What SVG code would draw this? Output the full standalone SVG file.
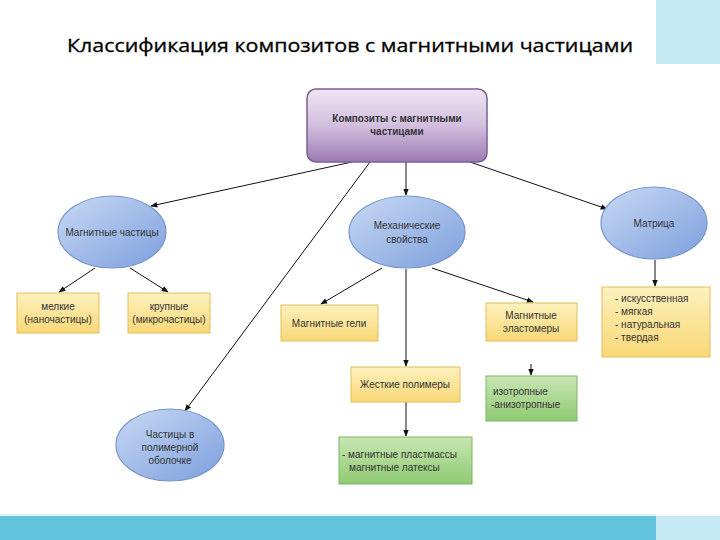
<svg xmlns="http://www.w3.org/2000/svg" width="720" height="540" viewBox="0 0 720 540">
<defs>
<linearGradient id="gPurple" x1="0" y1="0" x2="0" y2="1">
<stop offset="0" stop-color="#eee6f3"/><stop offset="0.5" stop-color="#d2bfdf"/><stop offset="1" stop-color="#9c7bb2"/>
</linearGradient>
<linearGradient id="gBlue" x1="0" y1="0" x2="1" y2="1">
<stop offset="0" stop-color="#c8d9f4"/><stop offset="1" stop-color="#7d9fdd"/>
</linearGradient>
<linearGradient id="gYellow" x1="0" y1="0" x2="0" y2="1">
<stop offset="0" stop-color="#fdf1bd"/><stop offset="1" stop-color="#f9d877"/>
</linearGradient>
<linearGradient id="gGreen" x1="0" y1="0" x2="0" y2="1">
<stop offset="0" stop-color="#c8e6b4"/><stop offset="1" stop-color="#8fca72"/>
</linearGradient>
<marker id="arr" viewBox="0 0 10 10" refX="9" refY="5" markerWidth="7" markerHeight="7" orient="auto">
<path d="M0,1 L10,5 L0,9 z" fill="#111"/>
</marker>
</defs>
<style>
.ell{fill:url(#gBlue);stroke:#7895c9;stroke-width:1.2}
.yel{fill:url(#gYellow);stroke:#e1c05e;stroke-width:1}
.grn{fill:url(#gGreen);stroke:#7fb566;stroke-width:1}
.t{font-family:"Liberation Sans",Arial,sans-serif;font-size:10px;fill:#333;text-anchor:middle}
.tl{font-family:"Liberation Sans",Arial,sans-serif;font-size:10px;fill:#333}
.c{stroke:#111;stroke-width:1;fill:none;marker-end:url(#arr)}
</style>
<rect x="0" y="0" width="720" height="540" fill="#ffffff"/>
<rect x="656" y="0" width="64" height="64" fill="#c5eaf4"/>
<rect x="0" y="514" width="656" height="1.5" fill="#d8eef5"/>
<rect x="0" y="516" width="656" height="24" fill="#64c4e0"/>
<rect x="656" y="516" width="64" height="24" fill="#c5eaf4"/>
<text x="350" y="52" font-family="'Open Sans','Liberation Sans',sans-serif" font-size="18.5" fill="#000" stroke="#000" stroke-width="0.3" text-anchor="middle" textLength="566" lengthAdjust="spacingAndGlyphs">Классификация композитов с магнитными частицами</text>

<g id="connectors">
<line class="c" x1="352" y1="162" x2="151" y2="206"/>
<line class="c" x1="370" y1="162" x2="185" y2="411"/>
<line class="c" x1="406" y1="162" x2="406" y2="195"/>
<line class="c" x1="470" y1="162" x2="607" y2="209"/>
<line class="c" x1="95" y1="268" x2="59" y2="292"/>
<line class="c" x1="130" y1="268" x2="168" y2="292"/>
<line class="c" x1="382" y1="268" x2="321" y2="304"/>
<line class="c" x1="406" y1="269" x2="406" y2="366"/>
<line class="c" x1="432" y1="268" x2="533" y2="302"/>
<line class="c" x1="655" y1="260" x2="655" y2="286"/>
<line class="c" x1="406" y1="402" x2="406" y2="436"/>
<line class="c" x1="531" y1="364" x2="531" y2="375"/>
</g>

<g id="n-top">
<rect x="307" y="89" width="180" height="73" rx="9" fill="url(#gPurple)" stroke="#7d5e92" stroke-width="1.5"/>
<text class="t" x="397" y="122" font-weight="bold" font-size="11" fill="#111">Композиты с магнитными</text>
<text class="t" x="397" y="135" font-weight="bold" font-size="11" fill="#111">частицами</text>
</g>

<g id="n-magnetic-particles">
<ellipse class="ell" cx="112" cy="232" rx="54" ry="36"/>
<text class="t" x="112" y="236">Магнитные частицы</text>
</g>

<g id="n-mechanical">
<ellipse class="ell" cx="407" cy="232" rx="58" ry="36"/>
<text class="t" x="407" y="229">Механические</text>
<text class="t" x="407" y="243">свойства</text>
</g>

<g id="n-matrix">
<ellipse class="ell" cx="654" cy="223" rx="53" ry="36"/>
<text class="t" x="654" y="227">Матрица</text>
</g>

<g id="n-coated">
<ellipse class="ell" cx="170" cy="445" rx="54" ry="36"/>
<text class="t" x="170" y="438">Частицы в</text>
<text class="t" x="170" y="451">полимерной</text>
<text class="t" x="170" y="464">оболочке</text>
</g>

<g id="n-small">
<rect class="yel" x="17" y="293" width="82" height="40"/>
<text class="t" x="58" y="310">мелкие</text>
<text class="t" x="58" y="323">(наночастицы)</text>
</g>

<g id="n-large">
<rect class="yel" x="128" y="293" width="82" height="40"/>
<text class="t" x="169" y="310">крупные</text>
<text class="t" x="169" y="323">(микрочастицы)</text>
</g>

<g id="n-gels">
<rect class="yel" x="281" y="305" width="97" height="36"/>
<text class="t" x="329" y="327">Магнитные гели</text>
</g>

<g id="n-elastomers">
<rect class="yel" x="486" y="303" width="91" height="38"/>
<text class="t" x="531" y="319">Магнитные</text>
<text class="t" x="531" y="332">эластомеры</text>
</g>

<g id="n-matrix-list">
<rect class="yel" x="602" y="287" width="108" height="70"/>
<text class="tl" x="615" y="302">- искусственная</text>
<text class="tl" x="615" y="315">- мягкая</text>
<text class="tl" x="615" y="328">- натуральная</text>
<text class="tl" x="615" y="341">- твердая</text>
</g>

<g id="n-rigid">
<rect class="yel" x="351" y="367" width="109" height="35"/>
<text class="t" x="405" y="388">Жесткие полимеры</text>
</g>

<g id="n-iso">
<rect class="grn" x="486" y="376" width="91" height="45"/>
<text class="tl" x="493" y="395">изотропные</text>
<text class="tl" x="491" y="408">-анизотропные</text>
</g>

<g id="n-plastics">
<rect class="grn" x="339" y="437" width="133" height="47"/>
<text class="tl" x="342" y="458">- магнитные пластмассы</text>
<text class="tl" x="349" y="471">магнитные латексы</text>
</g>
</svg>
